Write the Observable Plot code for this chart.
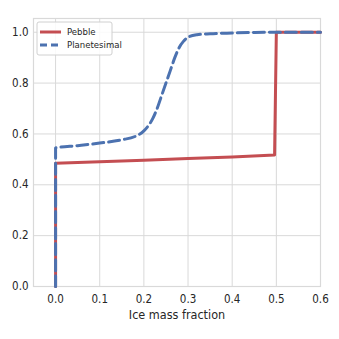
<!DOCTYPE html>
<html><head><meta charset="utf-8">
<script src="https://cdn.jsdelivr.net/npm/d3@7"></script>
<script src="https://cdn.jsdelivr.net/npm/@observablehq/plot@0.6"></script>
<style>
body{margin:0;background:#fff;}
#c{width:339px;height:339px;}
svg text{font-family:"DejaVu Sans Condensed","DejaVu Sans",sans-serif;font-stretch:condensed;}
</style></head>
<body><div id="c"></div>
<script>
const pebbleX = [0, 0, 0.1, 0.2, 0.3, 0.4, 0.496, 0.5, 0.6];
const pebbleY = [0, 0.485, 0.491, 0.497, 0.503, 0.509, 0.517, 1.0, 1.0];
const planX = [0, 0, 0.05, 0.1, 0.15, 0.18, 0.2, 0.21, 0.22, 0.23, 0.24, 0.25, 0.26, 0.27, 0.28, 0.29, 0.3, 0.32, 0.35, 0.4, 0.45, 0.5, 0.6];
const planY = [0, 0.545, 0.554, 0.564, 0.577, 0.59, 0.612, 0.632, 0.66, 0.70, 0.75, 0.80, 0.85, 0.90, 0.94, 0.965, 0.98, 0.99, 0.994, 0.997, 0.999, 1.0, 1.0];
const xTicks = [0, 0.1, 0.2, 0.3, 0.4, 0.5, 0.6];
const yTicks = [0, 0.2, 0.4, 0.6, 0.8, 1.0];
const seriesNames = ["Pebble", "Planetesimal"];
const seriesColors = ["#C44E52", "#4C72B0"];
const xLabel = "Ice mass fraction";

const pebble = pebbleX.map((x, i) => ({x, y: pebbleY[i]}));
const plan = planX.map((x, i) => ({x, y: planY[i]}));
const grid = "#d9d9d9";

const chart = Plot.plot({
  width: 339, height: 339,
  marginLeft: 33, marginRight: 19, marginTop: 18, marginBottom: 53,
  style: {background: "#fff", color: "#262626", fontSize: "11.5px"},
  x: {domain: [-0.05, 0.6], ticks: xTicks, tickFormat: d3.format(".1f"), tickSize: 0, tickPadding: 8, label: xLabel, labelAnchor: "center", labelArrow: "none", labelOffset: 32},
  y: {domain: [0, 1.054], ticks: yTicks, tickFormat: d3.format(".1f"), tickSize: 0, tickPadding: 5, label: null},
  marks: [
    Plot.ruleX(xTicks, {stroke: grid, strokeWidth: 1, strokeOpacity: 1}),
    Plot.ruleY(yTicks, {stroke: grid, strokeWidth: 1, strokeOpacity: 1}),
    Plot.frame({stroke: grid, strokeWidth: 1.2}),
    Plot.line(pebble, {x: "x", y: "y", stroke: seriesColors[0], strokeWidth: 3, curve: "linear"}),
    Plot.line(plan, {x: "x", y: "y", stroke: seriesColors[1], strokeWidth: 3, strokeDasharray: "11,5", curve: "monotone-x"})
  ]
});
document.getElementById("c").appendChild(chart);
const svg = d3.select(chart);
svg.selectAll("g[aria-label='x-axis label'] text, g[aria-label='x-axis label']").style("font-size", "12.5px");
// legend
const lg = svg.append("g").attr("transform", "translate(37,22)");
lg.append("rect").attr("width", 75).attr("height", 33).attr("rx", 2)
  .attr("fill", "#fff").attr("fill-opacity", 0.85).attr("stroke", "#d0d0d0");
seriesNames.forEach((n, i) => {
  const yy = 10 + i * 13;
  lg.append("line").attr("x1", 3).attr("x2", 24).attr("y1", yy).attr("y2", yy)
    .attr("stroke", seriesColors[i]).attr("stroke-width", 3)
    .attr("stroke-dasharray", i === 1 ? "7,4" : null);
  lg.append("text").attr("x", 24 + 6).attr("y", yy).attr("dy", "0.35em")
    .attr("text-anchor", "start")
    .attr("font-size", 9.5).attr("fill", "#262626").text(n);
});
</script></body></html>
